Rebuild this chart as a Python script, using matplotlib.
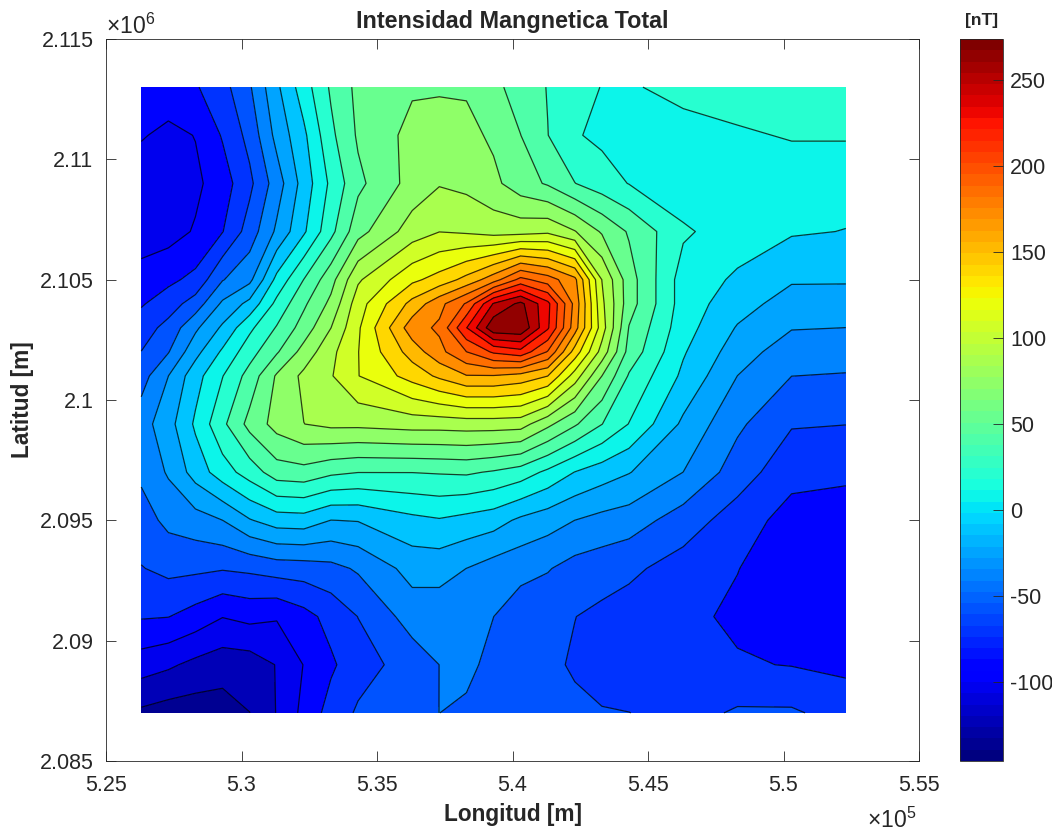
import numpy as np
import matplotlib
matplotlib.use("Agg")
import matplotlib.pyplot as plt
from matplotlib.cm import ScalarMappable
from matplotlib.colors import Normalize

plt.rcParams['font.family'] = ['Liberation Sans', 'DejaVu Sans']
plt.rcParams['mathtext.default'] = 'regular'
plt.rcParams['axes.unicode_minus'] = False

lon = [526300, 527300, 528300, 529300, 530300, 531300, 532300, 533300, 534300, 536300, 537300, 538300,
       539300, 540300, 541300, 542300, 543300, 544300, 546300, 548300, 550300, 552300]
lat = [2087000, 2089000, 2091000, 2093000, 2095000, 2097000, 2099000, 2101000,
       2102000, 2103000, 2104000, 2105000, 2107000, 2109000, 2111000, 2113000]

r2087 = [-133,-137,-138,-137,-130,-113,-93,-75,-63,-55,-49,-52,-54,-56,-60,-62,-64,-65,-72,-63,-63,-72]
r2089 = [-106,-111,-118,-123,-122,-113,-97,-84,-72,-58,-49,-45,-54,-58,-62,-67,-73,-78,-78,-80,-82,-85]
r2091 = [-80,-81,-88,-97,-93,-96,-87,-76,-65,-42,-42,-40,-49,-58,-60,-65,-69,-72,-78,-84,-90,-92]
r2093 = [-66,-61,-62,-64,-62,-58,-57,-54,-47,-27,-27,-33,-40,-44,-48,-55,-58,-62,-72,-81,-90,-94]
r2095 = [-56,-45,-40,-33,-18,-9,-8,-17,-16,-5,-2,-6,-10,-20,-26,-33,-38,-41,-57,-73,-88,-90]
r2097 = [-46,-31,-10,8,23,40,42,35,32,32,33,34,30,24,12,-1,-9,-16,-33,-57,-76,-78]
r2099 = [-40,-23,2,28,53,70,80,84,84,87,87,88,88,87,68,50,32,15,-20,-46,-64,-65]
r2101 = [-56,-33,-7,15,38,66,84,95,112,135,148,160,160,155,145,105,64,30,-4,-33,-49,-50]
r2102 = [-65,-50,-22,2,25,46,70,92,112,152,172,193,212,220,192,138,90,42,1,-25,-42,-43]
r2103 = [-73,-60,-36,-14,12,33,55,80,110,170,180,225,270,272,228,168,104,47,6,-18,-32,-33]
r2104 = [-83,-73,-58,-30,-12,20,45,68,105,150,172,195,243,262,230,172,100,55,8,-10,-24,-25]
r2105 = [-91,-85,-77,-50,-37,4,32,58,94,125,135,150,170,198,185,165,96,55,8,-3,-15,-15]
r2107 = [-106,-104,-96,-82,-58,-30,-3,27,58,88,96,94,90,90,93,81,62,46,18,7,1,-1]
r2109 = [-108,-112,-101,-89,-69,-41,-10,19,44,70,79,76,68,55,46,32,23,15,5,2,5,5]
r2111 = [-96,-102,-97,-80,-60,-28,-4,28,50,69,68,69,61,48,32,17,12,10,10,13,17,17]
r2113 = [-88,-87,-83,-71,-51,-20,8,34,52,62,63,62,52,41,31,22,15,14,20,25,28,28]
rows = [r2087, r2089, r2091, r2093, r2095, r2097, r2099, r2101, r2102, r2103,
        r2104, r2105, r2107, r2109, r2111, r2113]

vmin, vmax = -146, 274
n_bands = 26
levels = np.linspace(vmin, vmax, n_bands + 1)
xtick_vals = [525000, 530000, 535000, 540000, 545000, 550000, 555000]
xtick_labels = ['5.25', '5.3', '5.35', '5.4', '5.45', '5.5', '5.55']
ytick_vals = [2085000, 2090000, 2095000, 2100000, 2105000, 2110000, 2115000]
ytick_labels = ['2.085', '2.09', '2.095', '2.1', '2.105', '2.11', '2.115']
cbar_ticks = [-100, -50, 0, 50, 100, 150, 200, 250]

W, H = 1052, 831
fig = plt.figure(figsize=(W / 100, H / 100), dpi=100)
ax = fig.add_axes([106 / W, 1 - 761 / H, (919 - 106) / W, (761 - 39) / H])
cax = fig.add_axes([960 / W, 1 - 761 / H, (1003 - 960) / W, (761 - 39) / H])

cmap = plt.get_cmap('jet', 64)
norm = Normalize(vmin, vmax)
Z = np.array(rows, dtype=float)
ax.contourf(lon, lat, Z, levels=levels, cmap=cmap, norm=norm, extend='both')
ax.contour(lon, lat, Z, levels=levels[1:-1], colors='black', linewidths=0.9,
           alpha=0.75, linestyles='solid')

ax.set_xlim(525000, 555000)
ax.set_ylim(2085000, 2115000)
ax.set_xticks(xtick_vals, xtick_labels)
ax.set_yticks(ytick_vals, ytick_labels)
ax.tick_params(direction='in', length=7, width=0.6, top=True, right=True,
               labelsize=15.5, colors='#262626')
ax.tick_params(axis='x', pad=10)
ax.tick_params(axis='y', pad=9)
for s in ax.spines.values():
    s.set_linewidth(0.6)
    s.set_color('#262626')
ax.set_xlabel('Longitud [m]', fontsize=16.3, fontweight='bold', color='#262626', va='center')
ax.xaxis.set_label_coords(0.5, -(815 - 761) / 722)
ax.set_ylabel('Latitud [m]', fontsize=16.3, fontweight='bold', color='#262626', va='center')
ax.yaxis.set_label_coords((22 - 106) / 813, 0.5)
ax.set_title('Intensidad Mangnetica Total', fontsize=16.8, fontweight='bold', color='#262626', pad=8)
fig.text(106 / W, 1 - 26 / H, r'$\times 10^{6}$', fontsize=16.5, color='#262626', va='center')
fig.text(867 / W, 1 - 820 / H, r'$\times 10^{5}$', fontsize=16.5, color='#262626', va='center')

cb = fig.colorbar(ScalarMappable(norm=norm, cmap=cmap), cax=cax)
cb.set_ticks(cbar_ticks)
cb.ax.tick_params(direction='in', length=7, width=0.6, labelsize=15.5, colors='#262626', pad=5)
cb.outline.set_linewidth(0.6)
cb.outline.set_edgecolor('#262626')
cax.set_title('[nT]', fontsize=12.5, fontweight='bold', color='#262626', pad=10)

fig.savefig('out.png', dpi=100)
